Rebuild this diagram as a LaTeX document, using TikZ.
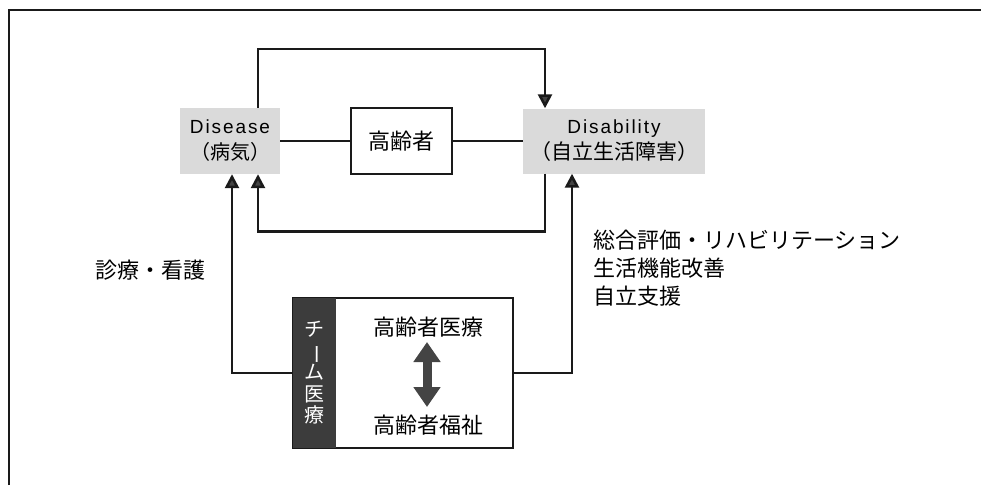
\documentclass[tikz,border=0pt]{standalone}
\usepackage{fontspec}
\setmainfont{Liberation Sans}
\newfontfamily\jp{Noto Sans CJK JP}
\newfontfamily\latsp[LetterSpace=10]{Liberation Sans}
\usetikzlibrary{arrows.meta,calc}
\definecolor{linecol}{HTML}{1A1A1A}
\definecolor{tipcol}{HTML}{444444}
\definecolor{boxgray}{HTML}{DADADA}
\definecolor{stripcol}{HTML}{3C3C3C}
\begin{document}
\begin{tikzpicture}[x=1pt,y=-1pt,
  conn/.style={line width=2.6pt, draw=linecol, -{Triangle[width=14pt,length=14pt,fill=tipcol]}},
  thin/.style={line width=1.2pt, draw=linecol},
  graybox/.style={fill=boxgray, inner sep=0pt, align=center, font=\fontsize{19}{26}\selectfont},
  lbl/.style={font=\jp\fontsize{22}{28}\selectfont, align=left, inner sep=0pt}]
\useasboundingbox (0,0) rectangle (981,485);
% frame
\draw[line width=2pt, draw=linecol] (9,485) -- (9,10) -- (981,10);
% main nodes
\node[graybox, minimum width=100pt, minimum height=66pt] (dis) at (230,141)
  {{\latsp Disease}\\{\jp\fontsize{20}{26}\selectfont （病気）}};
\node[draw=linecol, line width=1.2pt, minimum width=101pt, minimum height=66pt, font=\jp\fontsize{22}{26}\selectfont] (kou) at (401.5,141) {高齢者};
\node[graybox, minimum width=182pt, minimum height=65pt] (dab) at (614,141)
  {{\latsp Disability}\\{\jp\fontsize{21}{26}\selectfont （自立生活障害）}};
\draw[thin] (dis.east) -- (kou.west);
\draw[thin] (kou.east) -- (dab.west);
% loops
\draw[conn] ($(dis.north)+(28,0)$) -- ++(0,-59) -| ($(dab.north)+(-69,0)$);
\draw[conn] ($(dab.south)+(-69,0)$) -- ++(0,58) -| ($(dis.south)+(28,0)$);
% team box
\node[draw=linecol, line width=1.4pt, minimum width=220pt, minimum height=150pt, inner sep=0pt] (team) at (403,373) {};
\fill[stripcol] (team.north west) rectangle ($(team.south west)+(44,0)$);
\draw[linecol, line width=1.4pt] (team.north west) rectangle (team.south east);
\node[font=\jp\fontsize{20}{21.5}\selectfont, text=white, align=center, inner sep=0pt] (strip) at ($(team.west)+(22,0)$)
  {チ\\\rotatebox[origin=c]{-90}{ー}\\ム\\医\\療};
\node[font=\jp\fontsize{22}{26}\selectfont, inner sep=0pt] (med) at ($(team.center)+(25,-46)$) {高齢者医療};
\node[font=\jp\fontsize{22}{26}\selectfont, inner sep=0pt] (wel) at ($(team.center)+(25,52)$) {高齢者福祉};
\coordinate (da) at ($(team.center)+(24,-31)$);
\coordinate (db) at ($(team.center)+(24,34)$);
\draw[line width=9pt, draw=tipcol, {Triangle[width=26pt,length=20pt]}-{Triangle[width=26pt,length=20pt]}] (da) -- (db);
% side connectors
\draw[conn] (team.west) -| ($(dis.south)+(2,0)$);
\draw[conn] (team.east) -| ($(dab.south)+(-42,0)$);
% labels
\node[lbl, anchor=west] (l1) at (95,270) {診療・看護};
\node[lbl, anchor=north west] (l2) at (593,230) {総合評価・リハビリテーション\\生活機能改善\\自立支援};
\end{tikzpicture}
\end{document}
